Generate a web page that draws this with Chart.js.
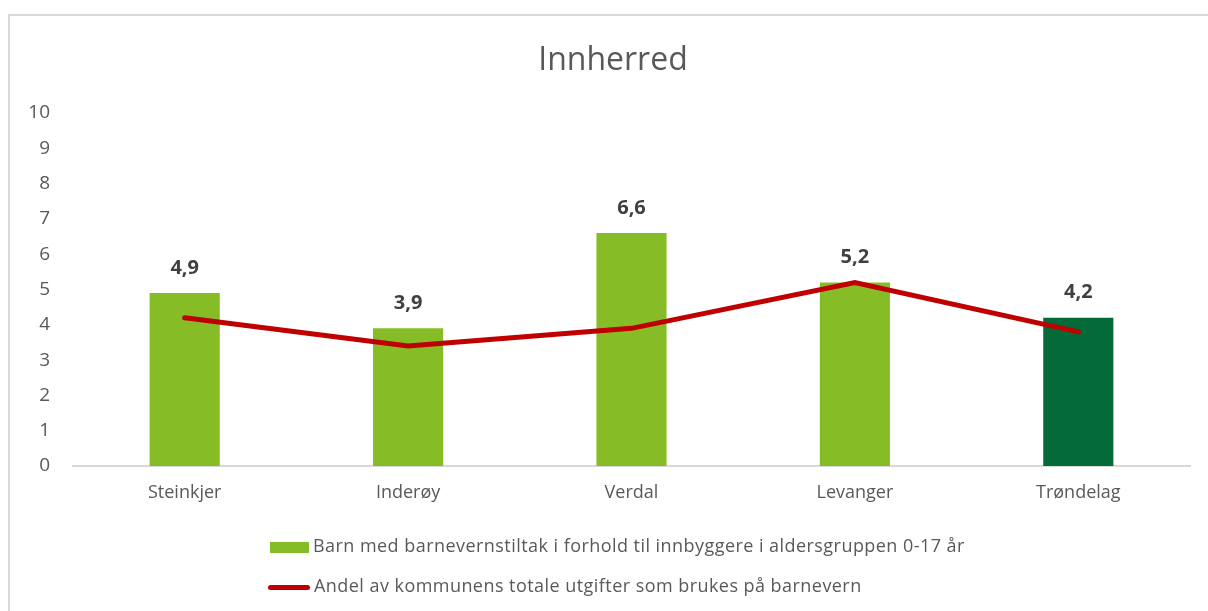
<!DOCTYPE html>
<html>
<head>
<meta charset="utf-8">
<script src="https://cdn.jsdelivr.net/npm/chart.js@4.4.0/dist/chart.umd.min.js"></script>
<style>
body{margin:0;background:#fff;font-family:"Open Sans",sans-serif}
#wrap{position:relative;width:1208px;height:611px;overflow:hidden}
#frame{position:absolute;left:8px;top:14px;width:1300px;height:700px;border-left:2px solid #d9d9d9;border-top:2px solid #d9d9d9}
#c{position:absolute;left:0;top:0}
#title{position:absolute;left:413px;width:400px;top:38px;text-align:center;font-size:32px;line-height:40px;color:#595959}
.leg{position:absolute;left:268px;font-size:18px;letter-spacing:0.45px;color:#595959;white-space:nowrap;line-height:20px}
.leg span{display:inline-block;vertical-align:middle;margin-right:4px}
</style>
</head>
<body>
<div id="wrap">
<div id="frame"></div>
<canvas id="c" width="1208" height="611"></canvas>
<div id="title">Innherred</div>
<div class="leg" style="top:535px"><span style="width:39px;height:11px;background:#86bc25;margin-left:2px"></span>Barn med barnevernstiltak i forhold til innbyggere i aldersgruppen 0-17 år</div>
<div class="leg" style="top:575px"><span style="width:42px;height:5px;background:#c00000;border-radius:3px"></span>Andel av kommunens totale utgifter som brukes på barnevern</div>
</div>
<script>
let categories=["Steinkjer","Inderøy","Verdal","Levanger","Trøndelag"]
let barValues=[4.9,3.9,6.6,5.2,4.2]
let lineValues=[4.2,3.4,3.9,5.2,3.8]
let yTicks=[0,1,2,3,4,5,6,7,8,9,10]

let barColors=["#86bc25","#86bc25","#86bc25","#86bc25","#046a38"]

/* value labels above bars */
let barLabels={
id:"barLabels",
afterDatasetsDraw(chart){
let ctx=chart.ctx
let meta=chart.getDatasetMeta(1)
ctx.save()
ctx.font="bold 20px 'Open Sans'"
ctx.fillStyle="#404040"
ctx.textAlign="center"
ctx.textBaseline="middle"
meta.data.forEach((bar,i)=>{
ctx.fillText(String(barValues[i]).replace(".",","),bar.x,bar.y-25)
})
ctx.restore()
}
}

new Chart(document.getElementById("c"),{
type:"bar",
data:{
labels:categories,
datasets:[{
type:"line",
label:"Andel av kommunens totale utgifter som brukes på barnevern",
data:lineValues,
borderColor:"#c00000",
borderWidth:5,
pointRadius:0,
tension:0,
borderCapStyle:"round",
order:0
},{
type:"bar",
label:"Barn med barnevernstiltak i forhold til innbyggere i aldersgruppen 0-17 år",
data:barValues,
backgroundColor:barColors,
categoryPercentage:1,
barPercentage:0.314,
order:1
}]
},
options:{
responsive:false,
animation:false,
layout:{padding:{left:0,right:18,top:113,bottom:0}},
plugins:{
legend:{display:false},
tooltip:{enabled:false}
},
scales:{
x:{
grid:{display:false,drawTicks:false},
border:{color:"#d9d9d9",width:2},
ticks:{color:"#595959",font:{family:"Open Sans",size:18},padding:16},
afterFit(s){s.height=145}
},
y:{
min:0,max:10,
afterBuildTicks(s){s.ticks=yTicks.map(v=>({value:v}))},
grid:{display:false,drawTicks:false},
border:{display:false},
ticks:{color:"#595959",font:{family:"Open Sans",size:19},padding:23},
afterFit(s){s.width=73}
}
}
},
plugins:[barLabels]
})
</script>
</body>
</html>
